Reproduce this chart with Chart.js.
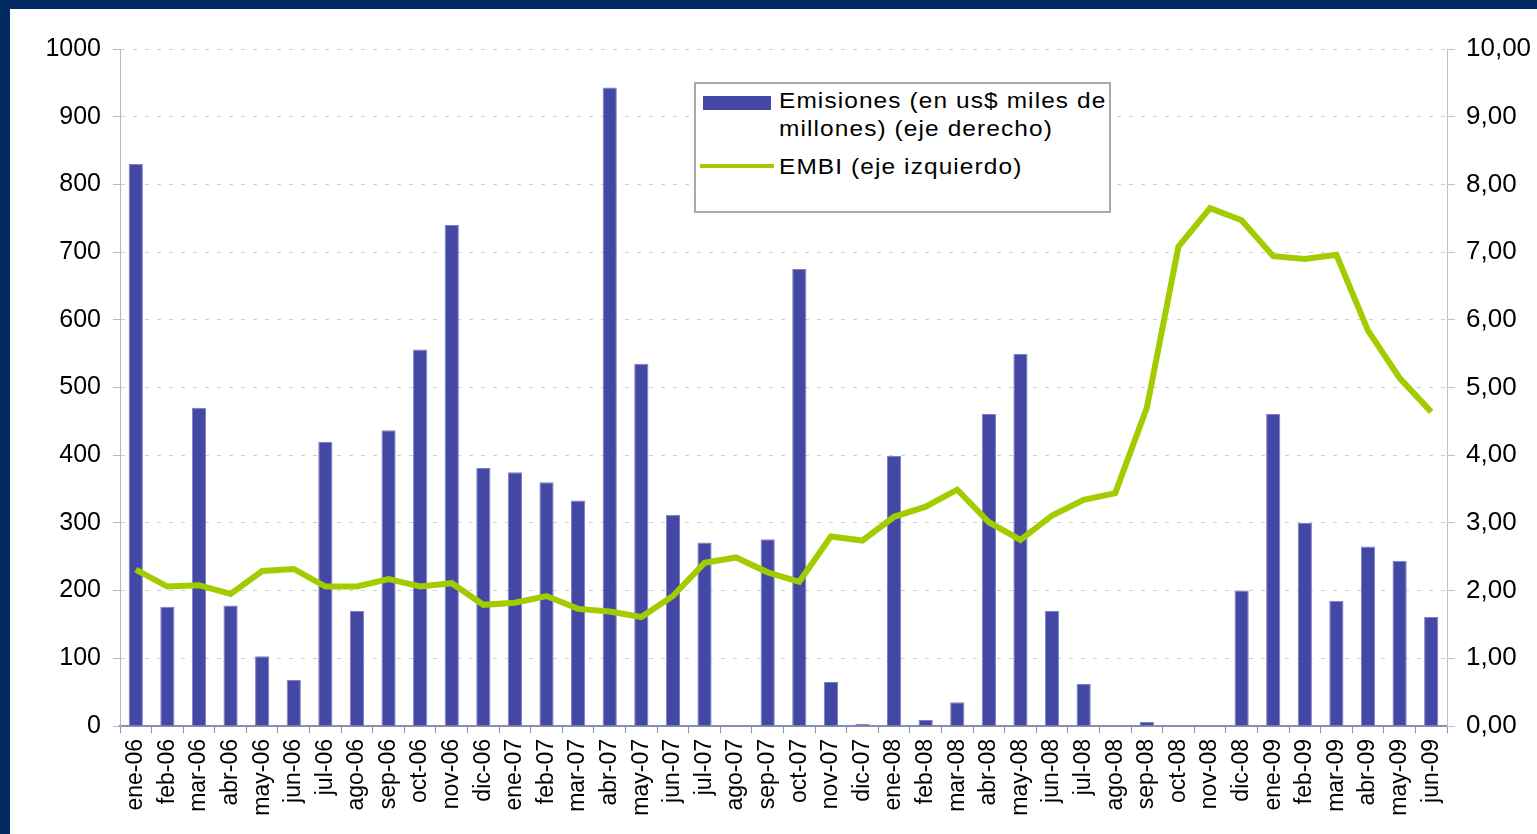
<!DOCTYPE html>
<html>
<head>
<meta charset="utf-8">
<script src="https://cdn.jsdelivr.net/npm/chart.js@4/dist/chart.umd.min.js"></script>
<style>
  body { margin: 0; background: #022862; width: 1537px; height: 834px; overflow: hidden; font-family: "Liberation Sans", Arial, sans-serif; }
  #wrap { position: absolute; left: 10px; top: 9px; width: 1527px; height: 825px; background: #fff; }
  #legend { position: absolute; left: 694px; top: 82px; width: 413px; height: 127px; border: 2px solid #aaaaaa; background: #fff; }
  .txt { position: absolute; font-size: 22px; color: #000; letter-spacing: 1px; white-space: nowrap; transform: scaleX(1.11); transform-origin: left top; }
</style>
</head>
<body>
<div id="wrap"><canvas id="myChart" width="1527" height="825"></canvas></div>
<div id="legend">
  <div style="position:absolute;left:7px;top:12px;width:68px;height:14px;background:#4448a5"></div>
  <div class="txt" style="left:83px;top:4px">Emisiones (en us$ miles de</div>
  <div class="txt" style="left:83px;top:32px">millones) (eje derecho)</div>
  <div style="position:absolute;left:4px;top:80px;width:74px;height:4px;background:#a2cc00"></div>
  <div class="txt" style="left:83px;top:70px">EMBI (eje izquierdo)</div>
</div>
<script>
// months from ene-06 to jun-09
var labels = ["ene-06","feb-06","mar-06","abr-06","may-06","jun-06","jul-06","ago-06","sep-06","oct-06","nov-06","dic-06",
  "ene-07","feb-07","mar-07","abr-07","may-07","jun-07","jul-07","ago-07","sep-07","oct-07","nov-07","dic-07",
  "ene-08","feb-08","mar-08","abr-08","may-08","jun-08","jul-08","ago-08","sep-08","oct-08","nov-08","dic-08",
  "ene-09","feb-09","mar-09","abr-09","may-09","jun-09"];

// emisiones (us$ miles de millones) - right axis
var emisiones = [8.30,1.76,4.70,1.78,1.03,0.68,4.20,1.70,4.37,5.56,7.40,3.81,
  3.75,3.60,3.33,9.43,5.35,3.12,2.71,0,2.76,6.75,0.65,0.03,
  3.99,0.09,0.35,4.61,5.50,1.70,0.62,0,0.06,0,0,2.00,
  4.61,3.00,1.85,2.65,2.44,1.61];

// EMBI - left axis
var embi = [231,206,208,195,229,232,206,206,217,206,211,179,
  182,192,173,169,161,192,241,249,227,213,280,274,
  309,324,349,301,275,311,334,344,470,708,765,747,
  694,690,696,584,514,464];

var leftTicks = ["0","100","200","300","400","500","600","700","800","900","1000"];
var rightTicks = ["0,00","1,00","2,00","3,00","4,00","5,00","6,00","7,00","8,00","9,00","10,00"];

new Chart("myChart", {
  data: {
    labels: labels,
    datasets: [{
      type: "line",
      data: embi,
      yAxisID: "y",
      borderColor: "#a2cc00",
      borderWidth: 6,
      pointRadius: 0,
      tension: 0,
      order: 0
    }, {
      type: "bar",
      data: emisiones,
      yAxisID: "y1",
      backgroundColor: "#4448a5",
      borderColor: "#7d80c4",
      borderWidth: { top: 1, left: 1, right: 1, bottom: 0 },
      barPercentage: 0.45,
      categoryPercentage: 1,
      order: 1
    }]
  },
  options: {
    responsive: false,
    animation: false,
    layout: { padding: { top: 40, left: 0, right: 0, bottom: 0 } },
    plugins: { legend: { display: false }, tooltip: { enabled: false } },
    scales: {
      x: {
        grid: { offset: true, drawOnChartArea: false, tickLength: 7, tickColor: "#8c8cb0" },
        border: { color: "#8c8cb0", width: 2 },
        ticks: { autoSkip: false, minRotation: 90, maxRotation: 90, color: "#000", padding: 6,
          font: { family: "Liberation Sans", size: 23 } },
        afterFit: function (s) { s.height = 108; }
      },
      y: {
        position: "left",
        min: 0, max: 1000,
        afterBuildTicks: function (s) { s.ticks = leftTicks.map(function (t, i) { return { value: i * 100 }; }); },
        grid: { color: "#cfcfcf", tickColor: "#b8b6d4", tickLength: 7, tickBorderDash: [] },
        border: { color: "#b8b6d4", width: 1, dash: [4, 8] },
        ticks: { color: "#000", padding: 12, font: { family: "Liberation Sans", size: 25 },
          callback: function (v, i) { return leftTicks[i]; } },
        afterFit: function (s) { s.width = 110; }
      },
      y1: {
        position: "right",
        min: 0, max: 10,
        afterBuildTicks: function (s) { s.ticks = rightTicks.map(function (t, i) { return { value: i }; }); },
        grid: { drawOnChartArea: false, tickColor: "#c0c0c0", tickLength: 8 },
        border: { color: "#c0c0c0", width: 1 },
        ticks: { color: "#000", padding: 11, font: { family: "Liberation Sans", size: 26 },
          callback: function (v, i) { return rightTicks[i]; } },
        afterFit: function (s) { s.width = 90; }
      }
    }
  }
});
</script>
</body>
</html>
